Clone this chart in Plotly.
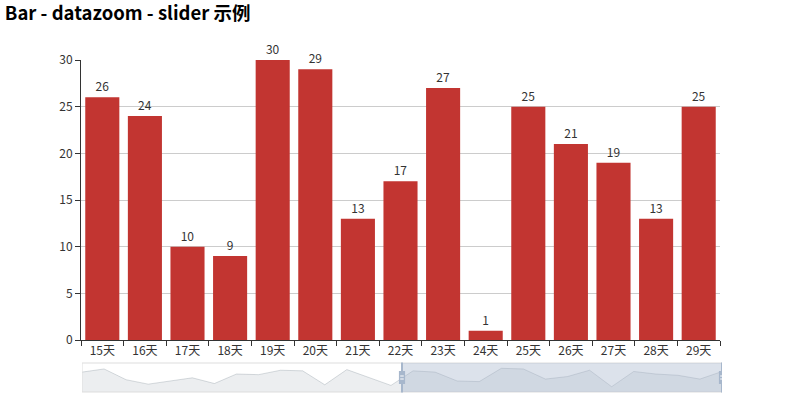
import plotly.graph_objects as go

days = ["{}天".format(i) for i in range(30)]
values = [24, 29, 12, 5, 10, 15, 6, 21, 20, 27, 26, 4, 28, 16, 3,
          26, 24, 10, 9, 30, 29, 13, 17, 27, 1, 25, 21, 19, 13, 25]
start_idx = 15
end_idx = 29
title = "Bar - datazoom - slider 示例"

FONT = "Noto Sans CJK SC, Microsoft YaHei, sans-serif"
W, H = 800, 400

def px_x(p):
    return p / W

def px_y(p):
    return 1 - p / H

fig = go.Figure()

vis_x = days[start_idx:end_idx + 1]
vis_y = values[start_idx:end_idx + 1]

fig.add_trace(go.Bar(
    x=vis_x, y=vis_y,
    marker=dict(color="#c23531", line=dict(width=0)),
    text=[str(v) for v in vis_y], textposition="outside",
    textfont=dict(family=FONT, size=12, color="#333"),
    cliponaxis=False, xaxis="x", yaxis="y", hoverinfo="x+y",
))

# slider data shadow
idx = list(range(len(values)))
base_v = -7.4
fig.add_trace(go.Scatter(
    x=idx, y=[base_v] * len(idx), mode="lines", line=dict(width=0),
    xaxis="x2", yaxis="y2", hoverinfo="skip", showlegend=False,
))
fig.add_trace(go.Scatter(
    x=idx, y=values, mode="lines", fill="tonexty",
    fillcolor="rgba(47,69,84,0.09)", line=dict(color="rgba(47,69,84,0.18)", width=1),
    xaxis="x2", yaxis="y2", hoverinfo="skip", showlegend=False,
))

sel_l = start_idx - 0.5
sel_r = end_idx

shapes = [
    dict(type="rect", xref="x2", yref="y2 domain", x0=0, x1=29, y0=0, y1=1,
         line=dict(color="#ddd", width=1), fillcolor="rgba(0,0,0,0)", layer="above"),
    dict(type="rect", xref="x2", yref="y2 domain", x0=sel_l, x1=sel_r, y0=0, y1=1,
         line=dict(width=0), fillcolor="rgba(167,183,204,0.4)", layer="above"),
]
for hx in (sel_l, sel_r):
    shapes.append(dict(type="line", xref="x2", yref="y2 domain", x0=hx, x1=hx, y0=-0.02, y1=1.02,
                       line=dict(color="#a7b7cc", width=2), layer="above"))

fig.update_layout(
    width=W, height=H,
    margin=dict(l=0, r=0, t=0, b=0, autoexpand=False),
    paper_bgcolor="white", plot_bgcolor="white",
    showlegend=False,
    bargap=0.2,
    title=dict(text="<b>" + title + "</b>", x=0.006, xanchor="left", y=px_y(14), yanchor="middle",
               font=dict(family=FONT, size=18.5, color="#000")),
    xaxis=dict(domain=[px_x(81), px_x(720)], type="category", tickson="boundaries",
               showgrid=False, showline=True, linecolor="#333", linewidth=1,
               ticks="outside", ticklen=5, tickcolor="#333", automargin=False,
               tickfont=dict(family=FONT, size=12, color="#333"), anchor="y", fixedrange=True),
    yaxis=dict(domain=[px_y(340), px_y(60)], range=[0, 30], dtick=5,
               showgrid=True, gridcolor="#ccc", gridwidth=1, zeroline=False,
               showline=True, linecolor="#333", linewidth=1, automargin=False,
               ticks="outside", ticklen=5, tickcolor="#333",
               tickfont=dict(family=FONT, size=12, color="#333"), anchor="x", fixedrange=True),
    xaxis2=dict(domain=[px_x(82), px_x(722)], range=[0, 29], visible=False, anchor="y2", fixedrange=True),
    yaxis2=dict(domain=[px_y(392), px_y(363)], range=[base_v, 38.4], visible=False, anchor="x2", fixedrange=True),
    shapes=shapes,
)

for hx in (sel_l, sel_r):
    fig.add_shape(type="rect", xref="x2", yref="paper",
                  x0=hx - 0.14, x1=hx + 0.14, y0=px_y(384), y1=px_y(371),
                  line=dict(color="#a7b7cc", width=0), fillcolor="#a7b7cc", layer="above")
    for yy in (376, 379):
        fig.add_shape(type="line", xref="x2", yref="paper",
                      x0=hx - 0.08, x1=hx + 0.08, y0=px_y(yy), y1=px_y(yy),
                      line=dict(color="white", width=1), layer="above")

fig.write_html("out.html")
